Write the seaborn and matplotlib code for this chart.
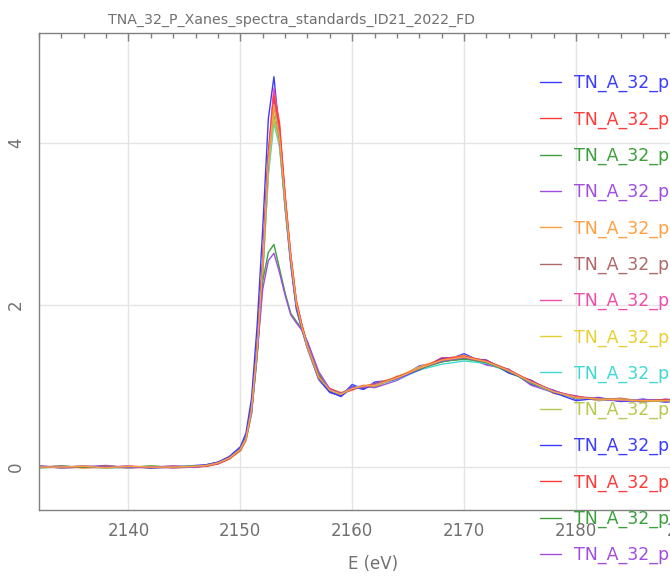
import pandas as pd
import matplotlib
matplotlib.use("Agg")
import matplotlib.pyplot as plt
import seaborn as sns
from matplotlib.ticker import MultipleLocator

# energy grid (eV), shared by all spectra
energy = [2132, 2134, 2136, 2138, 2140, 2142, 2144, 2146, 2147, 2148,
          2149, 2150, 2150.5, 2151, 2151.5, 2152, 2152.5, 2153, 2153.5, 2154,
          2154.5, 2155, 2155.5, 2156, 2157, 2158, 2159, 2160, 2161, 2162,
          2164, 2166, 2168, 2170, 2172, 2174, 2176, 2178, 2180, 2182,
          2184, 2186, 2188, 2190]

# normalized mu(E), one list per standard
tn01 = [0.01, -0.01, 0.00, 0.02, -0.01, 0.01, 0.00, 0.02, 0.03, 0.06, 0.13, 0.25, 0.42, 0.85, 1.75, 2.95, 4.30, 4.82, 4.10, 3.20, 2.50, 1.95, 1.70, 1.46, 1.08, 0.92, 0.88, 1.02, 0.96, 1.05, 1.08, 1.25, 1.30, 1.40, 1.27, 1.20, 1.02, 0.95, 0.84, 0.86, 0.81, 0.84, 0.80, 0.83]
tn02 = [0.00, 0.01, -0.01, 0.00, 0.01, -0.01, 0.01, 0.00, 0.02, 0.04, 0.10, 0.20, 0.33, 0.66, 1.40, 2.45, 3.85, 4.65, 4.25, 3.35, 2.62, 2.05, 1.75, 1.50, 1.12, 0.96, 0.92, 0.95, 1.01, 0.99, 1.12, 1.20, 1.35, 1.34, 1.32, 1.17, 1.07, 0.91, 0.87, 0.83, 0.85, 0.81, 0.83, 0.82]
tn03 = [-0.01, 0.00, 0.01, -0.01, 0.00, 0.01, -0.01, 0.01, 0.01, 0.05, 0.12, 0.21, 0.34, 0.68, 1.38, 2.40, 3.65, 4.35, 4.00, 3.22, 2.58, 2.02, 1.74, 1.49, 1.11, 0.94, 0.91, 0.98, 0.97, 1.02, 1.09, 1.23, 1.31, 1.33, 1.31, 1.20, 1.04, 0.94, 0.85, 0.85, 0.82, 0.83, 0.81, 0.83]
tn04 = [0.01, 0.00, 0.01, 0.00, -0.01, 0.00, 0.01, 0.00, 0.02, 0.05, 0.11, 0.23, 0.37, 0.74, 1.50, 2.55, 3.85, 4.55, 4.10, 3.28, 2.57, 2.00, 1.73, 1.52, 1.13, 0.93, 0.89, 0.99, 1.00, 0.98, 1.07, 1.21, 1.34, 1.37, 1.26, 1.21, 1.01, 0.92, 0.88, 0.82, 0.84, 0.80, 0.84, 0.81]
tn05 = [0.00, 0.01, 0.00, -0.01, 0.01, 0.00, 0.00, 0.01, 0.03, 0.05, 0.10, 0.21, 0.34, 0.69, 1.42, 2.48, 3.75, 4.45, 4.08, 3.30, 2.60, 2.03, 1.71, 1.47, 1.09, 0.97, 0.91, 0.96, 1.00, 1.03, 1.11, 1.24, 1.33, 1.38, 1.29, 1.18, 1.06, 0.94, 0.86, 0.84, 0.83, 0.83, 0.82, 0.81]
tn06 = [0.01, -0.01, 0.00, 0.01, 0.00, -0.01, 0.00, 0.01, 0.02, 0.06, 0.12, 0.22, 0.36, 0.71, 1.46, 2.52, 3.80, 4.50, 4.02, 3.24, 2.54, 1.98, 1.70, 1.47, 1.10, 0.95, 0.89, 0.97, 0.98, 1.00, 1.10, 1.22, 1.30, 1.35, 1.31, 1.19, 1.05, 0.92, 0.86, 0.84, 0.82, 0.82, 0.83, 0.82]
tn07 = [0.00, 0.00, 0.01, 0.00, 0.01, 0.00, -0.01, 0.00, 0.02, 0.04, 0.11, 0.22, 0.35, 0.72, 1.47, 2.55, 3.90, 4.68, 4.18, 3.30, 2.56, 2.01, 1.73, 1.49, 1.12, 0.96, 0.90, 0.96, 0.99, 1.02, 1.09, 1.21, 1.33, 1.36, 1.30, 1.18, 1.05, 0.93, 0.87, 0.85, 0.83, 0.82, 0.82, 0.82]
tn08 = [0.00, 0.01, -0.01, 0.01, 0.00, 0.01, 0.00, 0.01, 0.02, 0.05, 0.10, 0.20, 0.33, 0.67, 1.40, 2.45, 3.70, 4.40, 4.05, 3.28, 2.58, 2.04, 1.74, 1.50, 1.12, 0.96, 0.92, 0.97, 1.00, 1.01, 1.11, 1.22, 1.32, 1.35, 1.29, 1.19, 1.04, 0.93, 0.86, 0.83, 0.83, 0.82, 0.81, 0.82]
tn09 = [0.01, 0.00, 0.00, -0.01, 0.00, 0.00, 0.01, 0.01, 0.02, 0.05, 0.11, 0.21, 0.34, 0.66, 1.36, 2.38, 3.60, 4.25, 3.95, 3.20, 2.56, 2.02, 1.72, 1.48, 1.10, 0.95, 0.90, 0.98, 0.99, 1.01, 1.08, 1.20, 1.27, 1.31, 1.28, 1.18, 1.04, 0.92, 0.86, 0.84, 0.82, 0.83, 0.82, 0.81]
tn10 = [0.00, 0.00, 0.01, 0.00, -0.01, 0.01, 0.00, 0.00, 0.02, 0.05, 0.11, 0.22, 0.35, 0.69, 1.41, 2.44, 3.68, 4.30, 3.98, 3.24, 2.57, 2.01, 1.72, 1.48, 1.11, 0.94, 0.90, 0.97, 1.00, 1.00, 1.10, 1.23, 1.31, 1.36, 1.30, 1.20, 1.05, 0.93, 0.85, 0.83, 0.84, 0.82, 0.82, 0.82]
tn11 = [0.00, 0.01, 0.00, 0.00, 0.01, -0.01, 0.00, 0.01, 0.03, 0.06, 0.12, 0.23, 0.37, 0.73, 1.48, 2.53, 3.82, 4.50, 4.06, 3.26, 2.55, 1.99, 1.71, 1.49, 1.10, 0.93, 0.87, 0.99, 0.96, 1.03, 1.09, 1.20, 1.34, 1.35, 1.32, 1.16, 1.07, 0.92, 0.82, 0.85, 0.81, 0.83, 0.82, 0.80]
tn12 = [0.01, 0.00, 0.00, 0.01, 0.00, 0.00, 0.01, 0.00, 0.01, 0.04, 0.10, 0.21, 0.34, 0.69, 1.44, 2.50, 3.84, 4.58, 4.20, 3.36, 2.63, 2.06, 1.76, 1.51, 1.13, 0.97, 0.91, 0.96, 1.00, 1.02, 1.11, 1.22, 1.33, 1.37, 1.31, 1.20, 1.06, 0.94, 0.87, 0.84, 0.83, 0.82, 0.83, 0.82]
tn13 = [0.00, 0.01, 0.00, 0.00, 0.00, 0.01, 0.00, 0.01, 0.02, 0.05, 0.11, 0.22, 0.36, 0.70, 1.42, 2.30, 2.65, 2.75, 2.45, 2.15, 1.90, 1.80, 1.70, 1.54, 1.16, 0.95, 0.90, 0.97, 0.99, 1.01, 1.10, 1.21, 1.30, 1.34, 1.29, 1.18, 1.04, 0.93, 0.86, 0.84, 0.83, 0.82, 0.82, 0.82]
tn14 = [0.01, 0.00, 0.01, 0.00, 0.00, 0.00, 0.01, 0.00, 0.02, 0.05, 0.11, 0.22, 0.35, 0.69, 1.40, 2.20, 2.55, 2.64, 2.40, 2.12, 1.88, 1.78, 1.69, 1.55, 1.18, 0.96, 0.91, 0.98, 0.98, 1.02, 1.09, 1.22, 1.31, 1.35, 1.30, 1.19, 1.05, 0.94, 0.86, 0.84, 0.82, 0.83, 0.82, 0.81]
tn15 = [0.00, 0.00, 0.01, -0.01, 0.01, 0.00, 0.00, 0.01, 0.02, 0.05, 0.11, 0.22, 0.35, 0.71, 1.45, 2.50, 3.78, 4.48, 4.07, 3.27, 2.58, 2.02, 1.73, 1.49, 1.11, 0.95, 0.90, 0.97, 1.00, 1.01, 1.10, 1.22, 1.32, 1.36, 1.30, 1.19, 1.05, 0.93, 0.86, 0.84, 0.83, 0.82, 0.82, 0.82]

sample_names = ["TN_A_32_p01", "TN_A_32_p02", "TN_A_32_p03", "TN_A_32_p04", "TN_A_32_p05",
                "TN_A_32_p06", "TN_A_32_p07", "TN_A_32_p08", "TN_A_32_p09", "TN_A_32_p10",
                "TN_A_32_p11", "TN_A_32_p12", "TN_A_32_p13", "TN_A_32_p14", "TN_A_32_p15"]

trace_colors = ["#3c3cff", "#ff3c3c", "#3ca03c", "#a04ee0", "#ffa040",
                "#b06868", "#f04ea8", "#e8d030", "#40d8d0", "#b8c850"]

spectra = [tn01, tn02, tn03, tn04, tn05, tn06, tn07, tn08, tn09, tn10,
           tn11, tn12, tn13, tn14, tn15]
for s in spectra:
    assert len(s) == len(energy)

df = pd.concat([pd.DataFrame({"E": energy, "mu": mu, "sample": name})
                for name, mu in zip(sample_names, spectra)], ignore_index=True)
palette = {name: trace_colors[i % len(trace_colors)] for i, name in enumerate(sample_names)}

sns.set_style("white")
plt.rcParams["font.family"] = ["DejaVu Sans"]
text_col = "#707070"
axis_col = "#808080"

fig = plt.figure(figsize=(6.7, 5.82), dpi=100)
# axes runs past the right edge of the figure, like the cropped original
ax = fig.add_axes([39 / 670, 72 / 582, 669 / 670, 477 / 582])

sns.lineplot(data=df, x="E", y="mu", hue="sample", hue_order=sample_names,
             palette=palette, estimator=None, sort=False, lw=1.0, ax=ax)

ax.set_xlim(2132, 2191.8)
ax.set_ylim(-0.53, 5.36)
ax.xaxis.set_major_locator(MultipleLocator(10))
ax.xaxis.set_minor_locator(MultipleLocator(2))
ax.yaxis.set_major_locator(MultipleLocator(2))
ax.yaxis.set_minor_locator(MultipleLocator(1))
ax.grid(True, which="major", color="#e4e4e4", lw=1.0)
ax.set_axisbelow(True)
for side in ["left", "bottom", "top", "right"]:
    ax.spines[side].set_color(axis_col)
    ax.spines[side].set_linewidth(1.0)
ax.tick_params(which="both", direction="in", colors=axis_col, top=True,
               labelcolor=text_col, labelsize=12)
ax.tick_params(which="major", length=6, width=1)
ax.tick_params(which="minor", length=3.5, width=1)
ax.tick_params(axis="x", pad=9)
ax.tick_params(axis="y", pad=10)
plt.setp(ax.get_yticklabels(), rotation=90, va="center")

ax.set_ylabel("")
ax.set_xlabel("E (eV)", color=text_col, fontsize=12)
ax.xaxis.set_label_coords(0.5, -0.095)

handles, labels = ax.get_legend_handles_labels()
ax.get_legend().remove()
fig.legend(handles, labels, loc="upper left", bbox_to_anchor=(540 / 670, 1 - 74 / 582),
           frameon=False, fontsize=12.5, labelcolor="linecolor", handlelength=1.2,
           handletextpad=0.75, labelspacing=1.04, borderpad=0, borderaxespad=0)

fig.text(291 / 670, 1 - 20 / 582, "TNA_32_P_Xanes_spectra_standards_ID21_2022_FD",
         ha="center", va="center", color=text_col, fontsize=10.2)

fig.savefig("out.png", dpi=100)
